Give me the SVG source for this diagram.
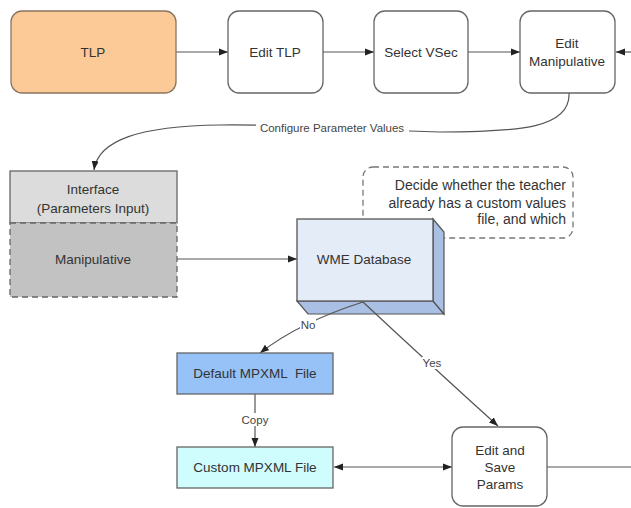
<svg xmlns="http://www.w3.org/2000/svg" width="631" height="508" viewBox="0 0 631 508">
<style>
text{font-family:"Liberation Sans",Arial,sans-serif;fill:#333;text-anchor:middle;}
.t{font-size:13.5px;}
.nt{font-size:14px;text-anchor:end;}
.lbl{font-size:11.5px;fill:#444;}
.rnd{fill:#fff;stroke:#666;stroke-width:1.3;}
.edge{fill:none;stroke:#555;stroke-width:1.2;}
.bg{fill:#fff;}
</style>
<defs>
<marker id="ah" markerWidth="9" markerHeight="8" refX="9" refY="4" orient="auto-start-reverse" markerUnits="userSpaceOnUse">
<path d="M0,0.5 L9,4 L0,7.5 z" fill="#222"/>
</marker>
</defs>
<rect width="631" height="508" fill="#fff"/>

<g id="note">
<rect x="363" y="167" width="210" height="71" rx="10" fill="#fff" stroke="#777" stroke-width="1.3" stroke-dasharray="6 4"/>
<text class="nt" x="566" y="190">Decide whether the teacher</text>
<text class="nt" x="566" y="208">already has a custom values</text>
<text class="nt" x="566" y="224">file, and which</text>
</g>

<g id="connectors">
<line class="edge" x1="176" y1="52" x2="228" y2="52" marker-end="url(#ah)"/>
<line class="edge" x1="323" y1="52" x2="374" y2="52" marker-end="url(#ah)"/>
<line class="edge" x1="468" y1="52" x2="520" y2="52" marker-end="url(#ah)"/>
<line class="edge" x1="631" y1="52" x2="616" y2="52" marker-end="url(#ah)"/>
<path class="edge" d="M569,93 C571,128 520,132 440,132 L410,131 C340,130 290,124 220,125 C140,126 98,140 94,170" marker-end="url(#ah)"/>
<rect class="bg" x="256" y="121" width="153" height="14"/>
<text class="lbl" x="332" y="132">Configure Parameter Values</text>
<line class="edge" x1="177" y1="259" x2="297" y2="259" marker-end="url(#ah)"/>
<line class="edge" x1="255" y1="394" x2="255" y2="447" marker-end="url(#ah)"/>
<rect class="bg" x="240" y="413" width="30" height="13"/>
<text class="lbl" x="255" y="424">Copy</text>
<line class="edge" x1="334" y1="467" x2="452" y2="467" marker-start="url(#ah)" marker-end="url(#ah)"/>
<line class="edge" x1="547" y1="467" x2="631" y2="467"/>
</g>

<g id="tlp">
<rect x="11" y="11" width="165" height="82" rx="11" fill="#FCCA96" stroke="#8A7560" stroke-width="1.3"/>
<text class="t" x="93" y="57">TLP</text>
</g>
<g id="edit-tlp">
<rect class="rnd" x="228" y="11" width="95" height="82" rx="11"/>
<text class="t" x="275" y="57">Edit TLP</text>
</g>
<g id="select-vsec">
<rect class="rnd" x="374" y="11" width="94" height="82" rx="11"/>
<text class="t" x="421" y="57">Select VSec</text>
</g>
<g id="edit-manipulative">
<rect class="rnd" x="520" y="11" width="95" height="82" rx="11"/>
<text class="t" x="567" y="48">Edit</text>
<text class="t" x="567" y="66">Manipulative</text>
</g>

<g id="interface">
<rect x="10" y="171" width="167" height="52" fill="#DCDCDC" stroke="#666" stroke-width="1.3"/>
<text class="t" x="93" y="194">Interface</text>
<text class="t" x="93" y="213">(Parameters Input)</text>
</g>
<g id="manipulative">
<rect x="10" y="223" width="167" height="74" fill="#C2C2C2" stroke="#666" stroke-width="1.3" stroke-dasharray="6 4"/>
<text class="t" x="93" y="264">Manipulative</text>
</g>

<g id="wme-database">
<polygon points="297,301 433,301 444,314 308,314" fill="#A9BFE3" stroke="#555" stroke-width="1.2"/>
<polygon points="433,219 444,232 444,314 433,301" fill="#A9BFE3" stroke="#555" stroke-width="1.2"/>
<rect x="297" y="219" width="136" height="82" fill="#E4ECF8" stroke="#555" stroke-width="1.3"/>
<text class="t" x="364" y="264">WME Database</text>
</g>

<g id="decision-edges">
<path class="edge" d="M363,302 Q300,322 260,353" marker-end="url(#ah)"/>
<rect class="bg" x="300" y="319" width="16" height="12"/>
<text class="lbl" x="308" y="329">No</text>
<path class="edge" d="M363,302 Q425,360 498,426" marker-end="url(#ah)"/>
<rect class="bg" x="422" y="357" width="20" height="12"/>
<text class="lbl" x="432" y="367">Yes</text>
</g>

<g id="default-mpxml">
<rect x="177" y="353" width="156" height="41" fill="#96C2F7" stroke="#666" stroke-width="1.3"/>
<text class="t" x="255" y="378" style="white-space:pre">Default MPXML  File</text>
</g>
<g id="custom-mpxml">
<rect x="177" y="447" width="156" height="41" fill="#CFFCFC" stroke="#666" stroke-width="1.3"/>
<text class="t" x="255" y="472">Custom MPXML File</text>
</g>
<g id="edit-save">
<rect class="rnd" x="452" y="427" width="95" height="79" rx="11"/>
<text class="t" x="500" y="455">Edit and</text>
<text class="t" x="500" y="472">Save</text>
<text class="t" x="500" y="489">Params</text>
</g>
</svg>
